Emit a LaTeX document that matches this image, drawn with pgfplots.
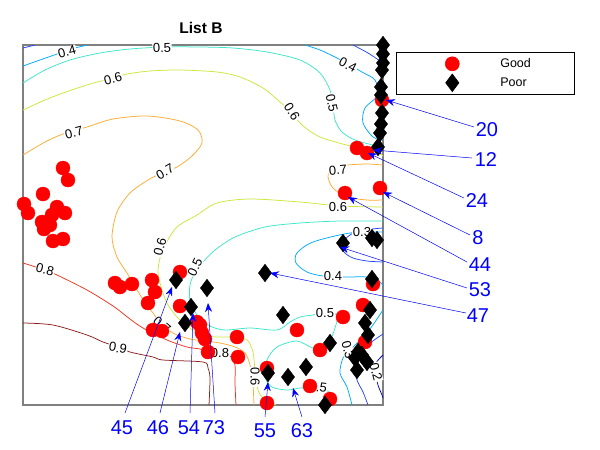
\documentclass[border=0pt]{standalone}
\usepackage{fontspec}
\setmainfont{Liberation Sans}
\usepackage{pgfplots}
\pgfplotsset{compat=1.18}
\usetikzlibrary{arrows.meta}
\definecolor{lvA}{RGB}{0,0,200}
\definecolor{lvB}{RGB}{40,70,255}
\definecolor{lvC}{RGB}{0,170,255}
\definecolor{lvD}{RGB}{60,230,200}
\definecolor{lvE}{RGB}{205,230,60}
\definecolor{lvF}{RGB}{255,170,50}
\definecolor{lvG}{RGB}{240,50,30}
\definecolor{lvH}{RGB}{140,30,30}
\tikzset{
  lab/.style={font=\fontsize{13}{13}\selectfont, fill=white, inner sep=0.6pt},
  ann/.style={blue, line width=0.5pt, -{Stealth[length=9pt, width=7pt, inset=3pt]}},
  annt/.style={blue, font=\fontsize{20}{20}\selectfont},
}
\pgfplotsset{
  mylegimg/.style={legend image code/.code={\path[draw=none, fill=none] (0pt,-9.5pt) rectangle (102pt,9.5pt); \draw[##1] plot coordinates {(54pt,0pt)};}},
}
\begin{document}
\begin{tikzpicture}
\useasboundingbox (-203pt,-225pt) rectangle (397pt,225pt);
\begin{axis}[
  at={(0,0)}, anchor=center,
  scale only axis, width=360pt, height=360pt,
  xmin=23, xmax=383, ymin=45, ymax=405, y dir=reverse,
  xtick=\empty, ytick=\empty,
  axis line style={draw=gray, line width=1.2pt},
  clip mode=individual,
  legend style={at={(axis cs:396,52)}, anchor=north west, draw=black, line width=0.6pt,
    inner sep=2pt, font=\fontsize{12.5}{14}\selectfont, nodes={inner sep=0pt}, row sep=0pt},
  legend cell align=left,
  cl/.style={forget plot, smooth, tension=0.5, line width=0.75pt, no marks},
]
% ---- contours ----
\addplot[cl, lvB] coordinates {(23,48) (35,45)};
\addplot[cl, lvC] coordinates {(23,66) (40,60) (60,53) (75,48) (88,45)};
\addplot[cl, lvD] coordinates {(23,83) (45,70) (70,60) (100,53) (130,49) (165,47) (200,47) (233,48) (267,52) (300,60) (320,73) (330,90) (333,105) (335,120) (342,132) (355,140) (373,145) (383,147)};
\addplot[cl, lvE] coordinates {(23,110) (45,100) (63,93) (90,84) (113,78) (127,74) (150,71) (180,70) (217,72) (240,77) (263,88) (280,102) (292,113) (302,125) (320,137) (350,146) (377,153) (383,156)};
\addplot[cl, lvF] coordinates {(23,155) (45,142) (63,134) (87,127) (113,119) (147,116) (180,121) (198,130) (202,143) (192,156) (177,167) (160,174) (148,180) (130,193) (117,212) (112,237) (117,257) (127,273) (136,288) (145,303) (153,313) (163,326) (175,334) (190,339) (205,341) (220,343) (235,347) (245,353) (250,365) (253,385) (254,405)};
\addplot[cl, lvF] coordinates {(383,165) (367,164) (347,165) (335,167) (328,176) (333,188) (347,197) (367,200) (383,200)};
\addplot[cl, lvE] coordinates {(383,207) (340,206) (300,202) (250,199) (217,203) (197,215) (177,227) (165,245) (160,258) (158,273) (162,290) (168,305) (178,318) (190,328) (200,335) (217,337) (233,337) (247,340) (253,352) (255,370) (258,390) (264,399) (276,405)};
\addplot[cl, lvD] coordinates {(383,221) (340,221) (300,223) (265,227) (235,237) (215,250) (203,262) (195,272) (190,285) (190,300) (197,315) (210,326) (225,330) (250,328) (277,330) (290,322) (300,317) (313,315) (325,313) (337,315) (335,328) (327,346) (313,348) (297,341) (277,347) (267,360) (265,377) (272,387) (287,390) (300,388) (318,387) (330,393) (335,405)};
\addplot[cl, lvC] coordinates {(383,232) (350,233) (313,242) (297,253) (296,263) (307,272) (323,276) (347,277) (367,277) (380,282) (383,286)};
\addplot[cl, lvC] coordinates {(383,310) (367,333) (350,350) (343,358) (340,373) (347,387) (352,405)};
\addplot[cl, lvC] coordinates {(305,45) (320,50) (335,57) (348,64) (362,72) (375,80) (378,95) (365,108) (363,123) (373,137) (383,140)};
\addplot[cl, lvB] coordinates {(353,45) (368,53) (383,63)};
\addplot[cl, lvB] coordinates {(383,228) (372,229) (360,231) (350,235) (342,243) (344,252) (353,258) (367,261) (383,262)};
\addplot[cl, lvB] coordinates {(383,334) (370,343) (360,352) (355,365) (357,380) (363,392) (368,405)};
\addplot[cl, lvA] coordinates {(383,355) (376,363) (375,372) (378,385) (382,395) (383,398)};
\addplot[cl, lvG] coordinates {(23,263) (45,270) (57,275) (87,290) (113,306) (130,319) (143,328) (167,340) (187,347) (200,349) (217,353) (230,356) (235,365) (235,383) (236,405)};
\addplot[cl, lvH] coordinates {(23,323) (53,325) (87,335) (103,342) (118,347) (130,352) (153,357) (163,360) (203,362) (208,368) (210,378) (209,405)};
% ---- contour labels ----
\node[lab, rotate=15] at (axis cs:67,52) {0.4};
\node[lab, rotate=2] at (axis cs:162,48) {0.5};
\node[lab, rotate=15] at (axis cs:113,79) {0.6};
\node[lab, rotate=15] at (axis cs:74,133) {0.7};
\node[lab, rotate=30] at (axis cs:165,172) {0.7};
\node[lab, rotate=-28] at (axis cs:348,65) {0.4};
\node[lab, rotate=-78] at (axis cs:332,103) {0.5};
\node[lab, rotate=-58] at (axis cs:292,112) {0.6};
\node[lab, rotate=5] at (axis cs:338,170) {0.7};
\node[lab] at (axis cs:338,207) {0.6};
\node[lab] at (axis cs:362,232) {0.3};
\node[lab] at (axis cs:333,276) {0.4};
\node[lab, rotate=75] at (axis cs:160,247) {0.6};
\node[lab, rotate=65] at (axis cs:195,267) {0.5};
\node[lab, rotate=-15] at (axis cs:45,270) {0.8};
\node[lab, rotate=-10] at (axis cs:118,348) {0.9};
\node[lab, rotate=-40] at (axis cs:162,325) {0.7};
\node[lab] at (axis cs:220,353) {0.8};
\node[lab, rotate=-90] at (axis cs:255,377) {0.6};
\node[lab] at (axis cs:325,313) {0.5};
\node[lab, rotate=-8] at (axis cs:318,387) {0.5};
\node[lab, rotate=-75] at (axis cs:348,350) {0.3};
\node[lab, rotate=-75] at (axis cs:376,372) {0.2};
% ---- data ----
\addplot[only marks, mark=*, mark size=7pt, color=red, fill=red, mylegimg]
coordinates {
(63,168) (68,180) (43,194) (24,204) (28,213) (57,207) (65,213) (52,215) (42,222) (44,229) (50,225) (53,241) (63,239)
(115,283) (120,287) (132,284) (152,280) (155,292) (148,303) (180,272) (180,306) (197,322) (202,333) (205,339) (153,330) (162,331) (208,352) (237,337) (238,357) (200,325)
(297,330) (343,317) (320,350) (267,368) (267,403) (310,386) (330,399) (363,305) (373,284) (365,342)
(382,100) (357,148) (367,153) (345,193) (380,188)
};
\addlegendentry{\makebox[72pt][l]{Good}}
\addplot[only marks, mark=diamond*, mark size=8.8pt, color=black, fill=black, mylegimg]
coordinates {
(383,45) (383,54) (383,63) (382,70) (381,87) (381,95) (382,113) (381,124) (380,133) (378,147)
(343,243) (372,238) (377,240) (372,279) (370,310) (365,323) (368,335) (358,352) (355,358) (362,355) (367,362) (357,370) (330,343) (306,367) (325,405)
(265,273) (283,315) (268,373) (288,377)
(176,280) (207,288) (191,307) (185,323)
};
\addlegendentry{\makebox[72pt][l]{Poor}}
% ---- title ----
\node[font=\fontsize{15.5}{15.5}\selectfont\bfseries] at (axis cs:201,28) {List B};
% ---- annotations ----
\draw[ann] (axis cs:474,127) -- (axis cs:386,100);
\node[annt] at (axis cs:487,130) {20};
\draw[ann] (axis cs:472,158) -- (axis cs:373,150);
\node[annt] at (axis cs:486,160) {12};
\draw[ann] (axis cs:464,198) -- (axis cs:368,153);
\node[annt] at (axis cs:477,201) {24};
\draw[ann] (axis cs:470,235) -- (axis cs:383,192);
\node[annt] at (axis cs:478,238) {8};
\draw[ann] (axis cs:467,262) -- (axis cs:348,197);
\node[annt] at (axis cs:480,265) {44};
\draw[ann] (axis cs:467,288) -- (axis cs:340,247);
\node[annt] at (axis cs:480,290) {53};
\draw[ann] (axis cs:466,313) -- (axis cs:270,273);
\node[annt] at (axis cs:478,316) {47};
\draw[ann] (axis cs:125,413) -- (axis cs:172,287);
\node[annt] at (axis cs:122,428) {45};
\draw[ann] (axis cs:160,413) -- (axis cs:180,332);
\node[annt] at (axis cs:158,428) {46};
\draw[ann] (axis cs:190,413) -- (axis cs:193,313);
\node[annt] at (axis cs:189,428) {54};
\draw[ann] (axis cs:215,413) -- (axis cs:208,303);
\node[annt] at (axis cs:214,428) {73};
\draw[ann] (axis cs:265,417) -- (axis cs:268,382);
\node[annt] at (axis cs:265,431) {55};
\draw[ann] (axis cs:302,417) -- (axis cs:293,388);
\node[annt] at (axis cs:302,431) {63};
\end{axis}
\end{tikzpicture}
\end{document}
